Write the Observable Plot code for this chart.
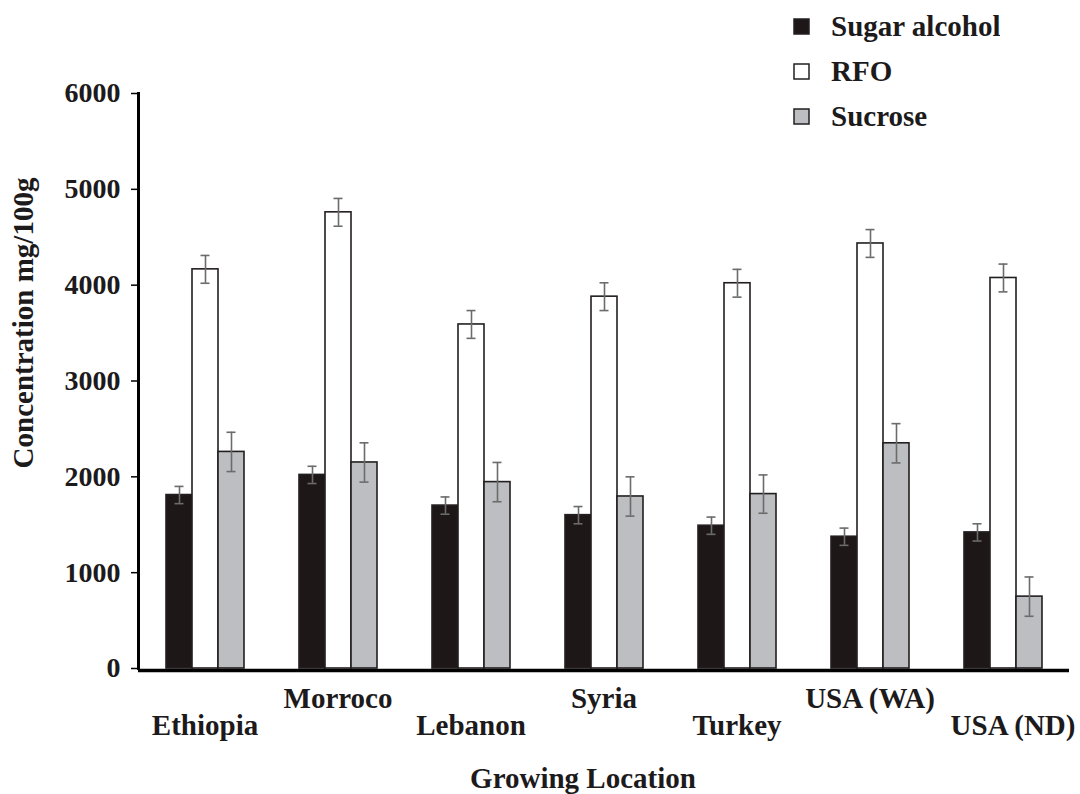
<!DOCTYPE html>
<html>
<head>
<meta charset="utf-8">
<script src="https://cdn.jsdelivr.net/npm/d3@7"></script>
<script src="https://cdn.jsdelivr.net/npm/@observablehq/plot@0.6"></script>
<style>
  body { margin: 0; background: #fff; }
  #wrap { position: relative; width: 1080px; height: 794px; font-family: "Liberation Serif", "Times New Roman", serif; font-weight: bold; color: #1c1a1b; }
  #legend { position: absolute; left: 794px; top: 4px; }
  #legend .lg-swatch { height: 44px; }
  #legend .lg-swatch > svg { margin-right: 22px; }
  #legend svg rect { stroke: #231f20; stroke-width: 1.5px; }
</style>
</head>
<body>
<div id="wrap"><div id="chart"></div><div id="legend"></div></div>
<script>
// ---- data ----
const locations = ["Ethiopia", "Morroco", "Lebanon", "Syria", "Turkey", "USA (WA)", "USA (ND)"];
const seriesNames = ["Sugar alcohol", "RFO", "Sucrose"];
const seriesColors = ["#1e1718", "#ffffff", "#bdbec1"];

const sugarAlcohol    = [1810, 2020, 1700, 1600, 1490, 1375, 1420];
const sugarAlcoholErr = [90, 90, 90, 90, 90, 90, 90];
const rfo             = [4165, 4760, 3590, 3880, 4020, 4435, 4075];
const rfoErr          = [145, 145, 145, 145, 145, 145, 145];
const sucrose         = [2260, 2150, 1945, 1795, 1820, 2350, 750];
const sucroseErr      = [205, 205, 205, 205, 200, 205, 205];

const yTicks = [0, 1000, 2000, 3000, 4000, 5000, 6000];
const xTitle = "Growing Location";
const yTitle = "Concentration mg/100g";

// ---- table for Plot ----
const values = [sugarAlcohol, rfo, sucrose];
const errors = [sugarAlcoholErr, rfoErr, sucroseErr];
const data = [];
locations.forEach((loc, i) => {
  seriesNames.forEach((s, j) => {
    data.push({location: loc, series: s, value: values[j][i], err: errors[j][i]});
  });
});

const upperLabels = locations.filter((d, i) => i % 2 === 1);
const lowerLabels = locations.filter((d, i) => i % 2 === 0 && i < locations.length - 1);
const lastLabel = [locations[locations.length - 1]];

const font = "'Liberation Serif', 'Times New Roman', serif";
const ink = "#1c1a1b";
const errInk = "#6b6b6b";
const labelSize = 29;

const chart = Plot.plot({
  width: 1080,
  height: 794,
  marginLeft: 138,
  marginRight: 11,
  marginTop: 93,
  marginBottom: 126,
  style: {fontFamily: font, fontWeight: "bold", color: ink, background: "transparent", overflow: "visible"},
  fx: {domain: locations, padding: 0, axis: null},
  x: {domain: seriesNames, paddingInner: 0, paddingOuter: 0.963, axis: null},
  y: {domain: [0, 6000], axis: null},
  color: {domain: seriesNames, range: seriesColors},
  marks: [
    Plot.barY(data, {fx: "location", x: "series", y: "value", fill: "series", stroke: "#231f20", strokeWidth: 1.6}),
    Plot.ruleX(data, {fx: "location", x: "series", y1: d => d.value - d.err, y2: d => d.value + d.err, stroke: errInk, strokeWidth: 1.6}),
    Plot.tickY(data, {fx: "location", x: "series", y: d => d.value - d.err, stroke: errInk, strokeWidth: 1.6, insetLeft: 8.5, insetRight: 8.5}),
    Plot.tickY(data, {fx: "location", x: "series", y: d => d.value + d.err, stroke: errInk, strokeWidth: 1.6, insetLeft: 8.5, insetRight: 8.5}),
    Plot.ruleY([0], {stroke: "#000", strokeWidth: 3.5, dy: 2}),
    Plot.frame({anchor: "left", facetAnchor: "left", stroke: "#000", strokeWidth: 3}),
    Plot.axisY(yTicks, {tickSize: 7, tickPadding: 11, fontSize: 28, label: null, stroke: "#000", strokeWidth: 1.5, tickFormat: d3.format("d")}),
    Plot.text(upperLabels, {fx: d => d, text: d => d, frameAnchor: "bottom", textAnchor: "middle", lineAnchor: "middle", dy: 30, fontSize: labelSize, fill: ink}),
    Plot.text(lowerLabels, {fx: d => d, text: d => d, frameAnchor: "bottom", textAnchor: "middle", lineAnchor: "middle", dy: 57, fontSize: labelSize, fill: ink}),
    Plot.text(lastLabel, {fx: d => d, text: d => d, frameAnchor: "bottom", textAnchor: "middle", lineAnchor: "middle", dy: 57, dx: 10, fontSize: labelSize, fill: ink}),
    Plot.text([yTitle], {text: d => d, frameAnchor: "left", facetAnchor: "left", textAnchor: "middle", lineAnchor: "middle", rotate: -90, dx: -115, dy: -58, fontSize: labelSize, fill: ink}),
    Plot.text([xTitle], {text: d => d, frameAnchor: "bottom", facetAnchor: "left", textAnchor: "middle", lineAnchor: "middle", dx: 378, dy: 110, fontSize: labelSize, fill: ink})
  ]
});
document.getElementById("chart").appendChild(chart);

const legend = Plot.legend({
  color: chart.scale("color"),
  legend: "swatches",
  columns: 1,
  swatchSize: 15,
  className: "lg",
  style: {fontFamily: font, fontSize: "29px", fontWeight: "bold", color: ink, marginBottom: "0"}
});
document.getElementById("legend").appendChild(legend);
</script>
</body>
</html>
